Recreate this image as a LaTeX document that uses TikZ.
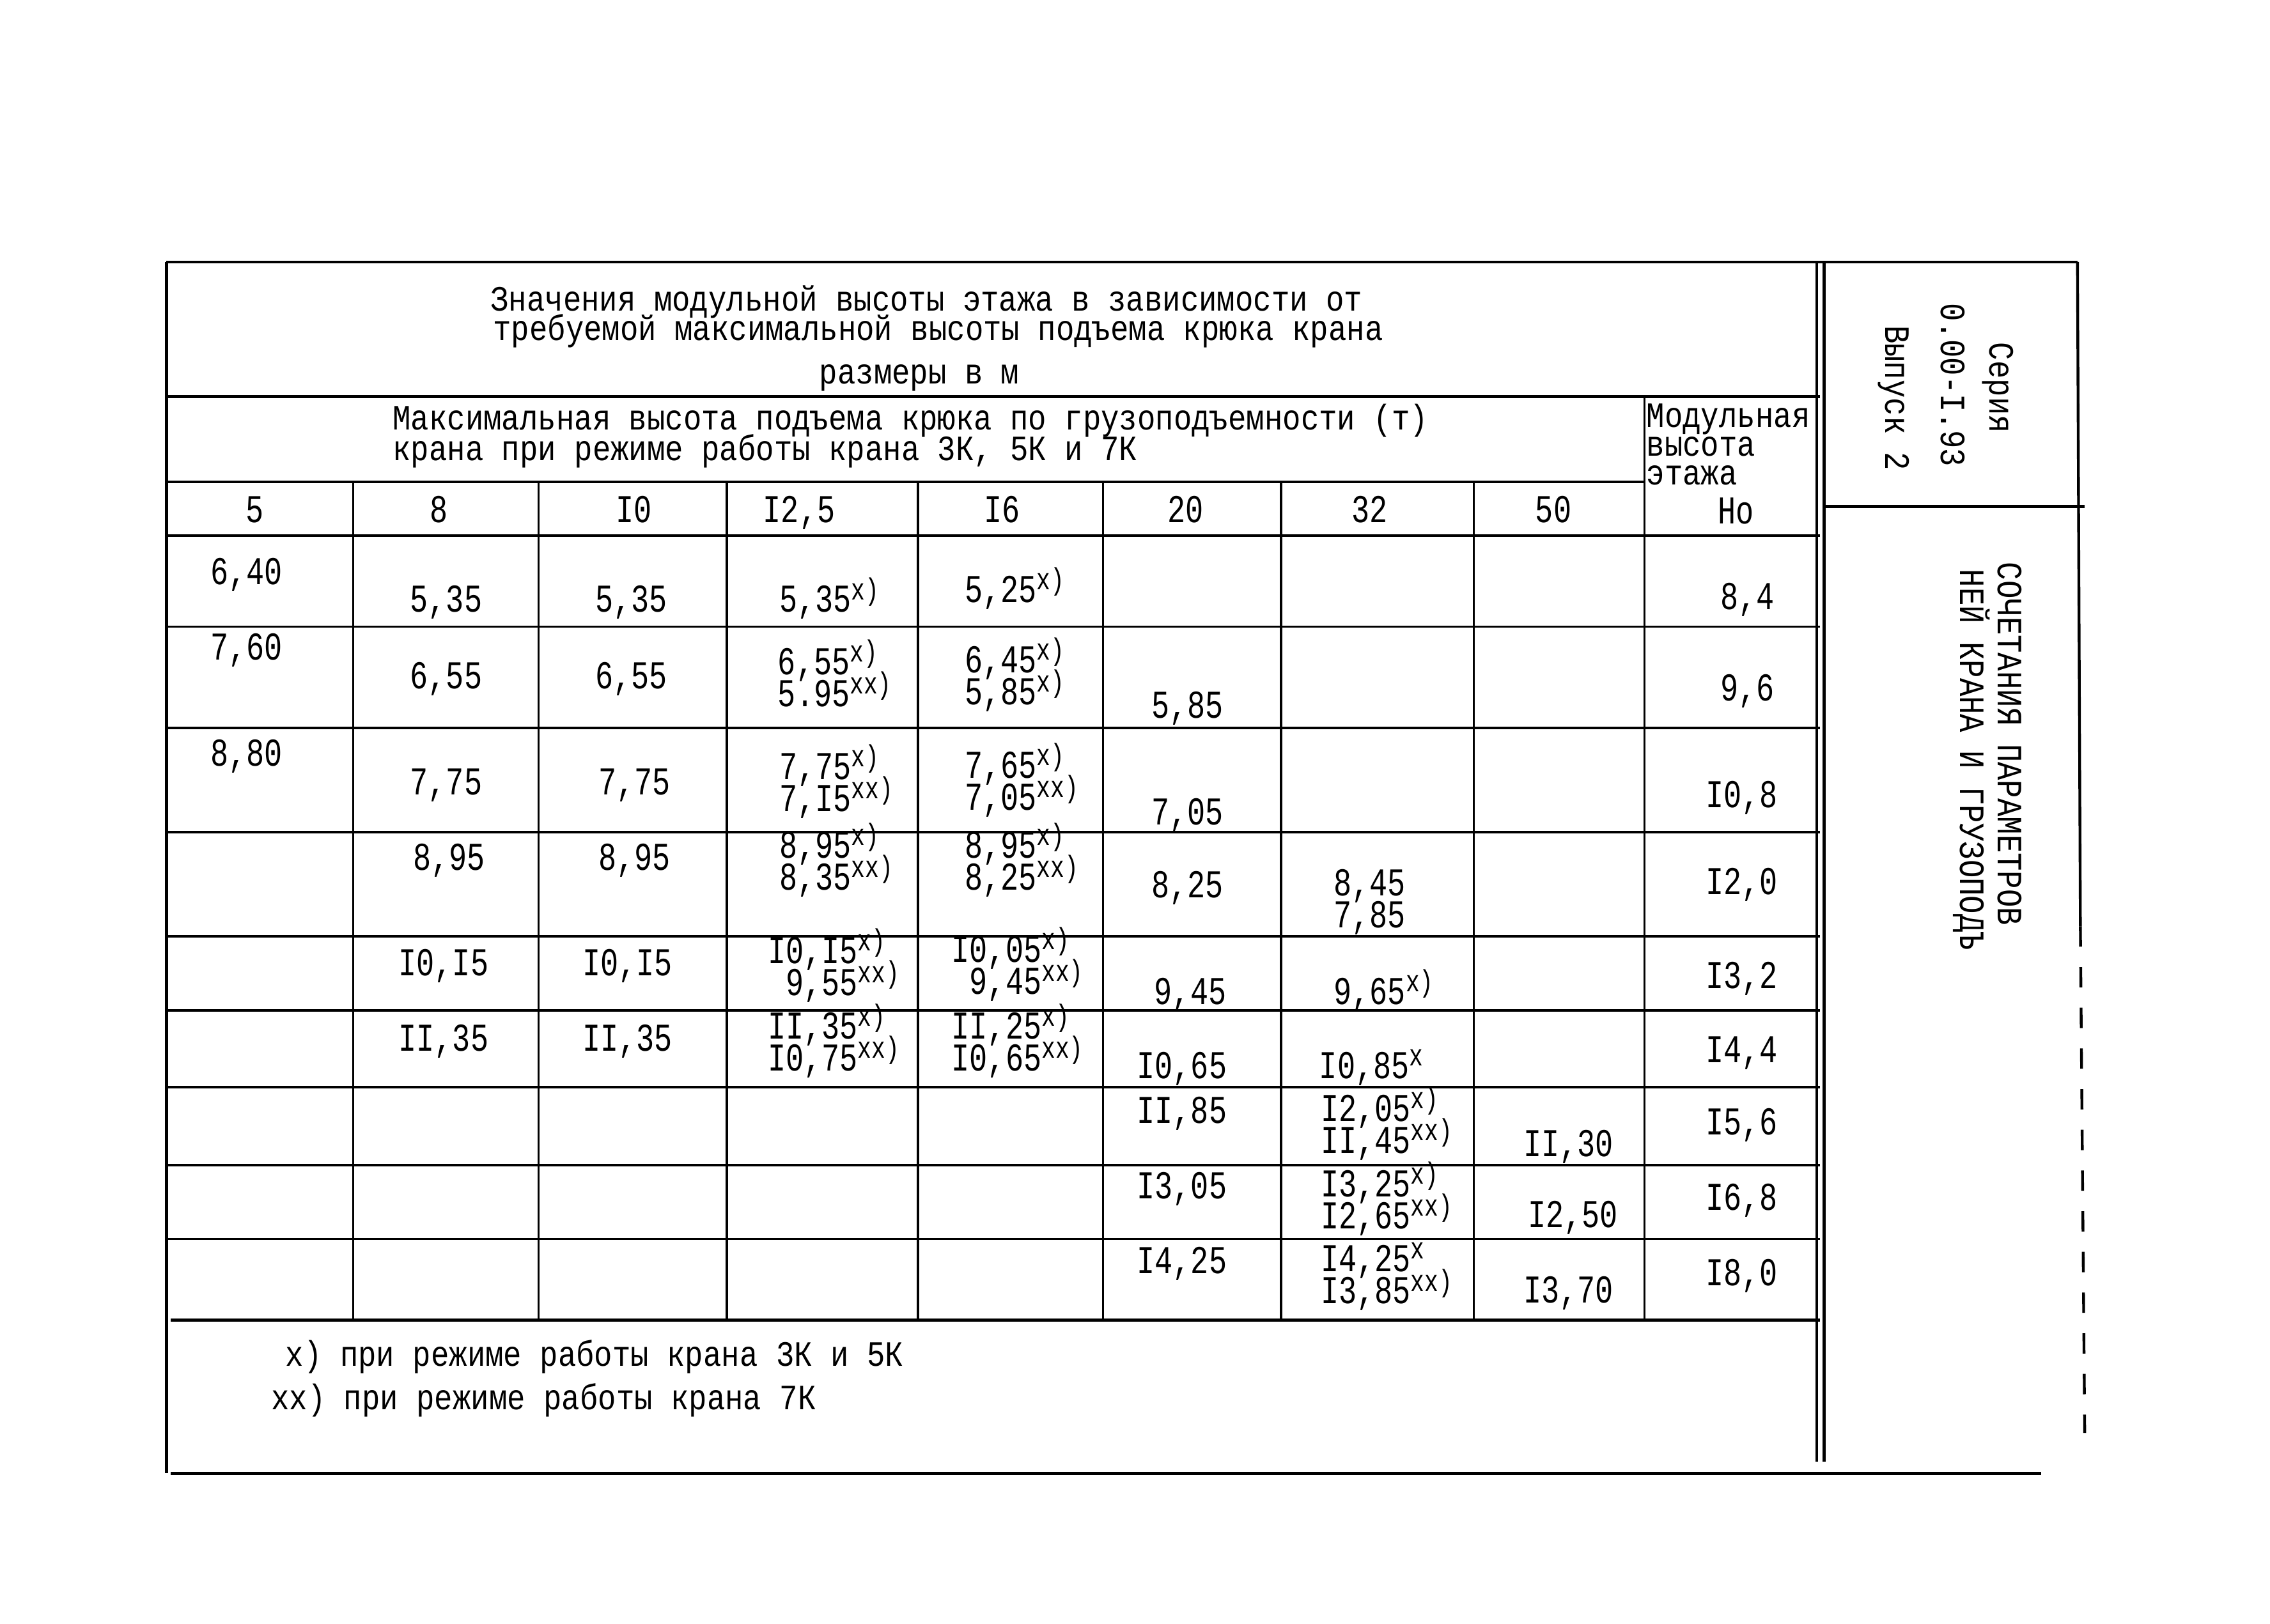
\documentclass[tikz,border=0pt]{standalone}
\usepackage{fontspec}
\newfontfamily\twA[FakeStretch=0.85]{Liberation Mono}
\newfontfamily\twB[FakeStretch=0.76]{Liberation Mono}
\newcommand\sx[1]{\smash{\raisebox{5pt}{\fontsize{12}{12}\selectfont #1}}}
\newcommand\rs[1]{\rlap{\sx{#1}}}
\newcommand\datfont{\twB\fontsize{15.5}{12.6}\selectfont\lineskiplimit -30pt\relax}
\begin{document}
\begin{tikzpicture}[x=0.02cm,y=-0.02cm,
  ln/.style={line width=1.1pt,black},
  lnt/.style={line width=0.9pt,black},
  txt/.style={font=\twA\fontsize{14}{12}\selectfont,inner sep=0pt},
  dat/.style={font=\datfont,inner sep=0pt,align=right},
  hd/.style={font=\twB\fontsize{15.5}{11.5}\selectfont,inner sep=0pt,anchor=base},
  rot/.style={font=\twA\fontsize{14}{12}\selectfont,inner sep=0pt,rotate=-90}]
\useasboundingbox[fill=white] (0,0) rectangle (1568,1122);
% frame
\draw[ln] (115,181) -- (1435,181);
\draw[ln] (115,181) -- (115,1018);
\draw[ln] (118,1018) -- (1410,1018);
\draw[ln] (1255,181) -- (1255,1010);
\draw[ln] (1260,181) -- (1260,1010);
\draw[ln] (1435,181) -- (1437,640);
\draw[ln,dash pattern=on 8pt off 8pt] (1437,640) -- (1440,990);
\draw[ln] (1260,350) -- (1440,350);
% table rules
\draw[ln] (115,274) -- (1257,274);
\draw[ln] (115,333) -- (1136,333);
\draw[ln] (115,370) -- (1257,370);
\draw[lnt] (1136,274) -- (1136,912);
\foreach \xx in {244,372,502,634,762,885,1018} \draw[lnt] (\xx,333) -- (\xx,912);
\foreach \yy in {433,503,575,647,698,751,805,856} \draw[lnt] (115,\yy) -- (1257,\yy);
\draw[ln] (118,912) -- (1257,912);
% title
\node[txt,anchor=base] (t1) at (640,215) {Значения модульной высоты этажа в зависимости от};
\node[txt,anchor=base] (t2) at (648,235) {требуемой максимальной высоты подъема крюка крана};
\node[txt,anchor=base] (t3) at (635,265) {размеры в м};
\node[txt,anchor=base west] (h1) at (271,297) {Максимальная высота подъема крюка по грузоподъемности (т)};
\node[txt,anchor=base west] (h2) at (271,318) {крана при режиме работы крана 3К, 5К и 7К};
\node[txt,anchor=base west] (m1) at (1137,295) {Модульная};
\node[txt,anchor=base west] (m2) at (1137,315) {высота};
\node[txt,anchor=base west] (m3) at (1137,335) {этажа};
% column heads
\node[hd] (c5) at (176,361) {5};
\node[hd] (c8) at (303,361) {8};
\node[hd] (c10) at (438,361) {I0};
\node[hd] (c12) at (552,361) {I2,5};
\node[hd] (c16) at (692,361) {I6};
\node[hd] (c20) at (819,361) {20};
\node[hd] (c32) at (946,361) {32};
\node[hd] (c50) at (1073,361) {50};
\node[hd] (cho) at (1199,362) {Но};
% column 5
\node[dat,anchor=base west] (a1) at (145,404) {6,40};
\node[dat,anchor=base west] (a2) at (145,456) {7,60};
\node[dat,anchor=base west] (a3) at (145,529) {8,80};
% column 8
\node[dat,anchor=base west] (b1) at (283,423) {5,35};
\node[dat,anchor=base west] (b2) at (283,476) {6,55};
\node[dat,anchor=base west] (b3) at (283,549) {7,75};
\node[dat,anchor=base west] (b4) at (285,601) {8,95};
\node[dat,anchor=base west] (b5) at (275,674) {I0,I5};
\node[dat,anchor=base west] (b6) at (275,726) {II,35};
% column 10
\node[dat,anchor=base west] (d1) at (411,423) {5,35};
\node[dat,anchor=base west] (d2) at (411,476) {6,55};
\node[dat,anchor=base west] (d3) at (413,549) {7,75};
\node[dat,anchor=base west] (d4) at (413,601) {8,95};
\node[dat,anchor=base west] (d5) at (402,674) {I0,I5};
\node[dat,anchor=base west] (d6) at (402,726) {II,35};
% column 12,5
\node[dat,anchor=base west] (e1) at (538,423) {5,35\rs{x)}};
\node[dat,anchor=west] (e2) at (537,468) {6,55\rs{x)}\\5.95\rs{xx)}};
\node[dat,anchor=west] (e3) at (538,543) {7,75\rs{x)}\\7,I5\rs{xx)}};
\node[dat,anchor=west] (e4) at (538,597) {8,95\rs{x)}\\8,35\rs{xx)}};
\node[dat,anchor=west] (e5) at (530,670) {I0,I5\rs{x)}\\9,55\rs{xx)}};
\node[dat,anchor=west] (e6) at (530,722) {II,35\rs{x)}\\I0,75\rs{xx)}};
% column 16
\node[dat,anchor=base west] (f1) at (666,416) {5,25\rs{x)}};
\node[dat,anchor=west] (f2) at (666,469) {6,45\rs{x)}\\5,85\rs{x)}};
\node[dat,anchor=west] (f3) at (666,542) {7,65\rs{x)}\\7,05\rs{xx)}};
\node[dat,anchor=west] (f4) at (666,597) {8,95\rs{x)}\\8,25\rs{xx)}};
\node[dat,anchor=west] (f5) at (657,669) {I0,05\rs{x)}\\9,45\rs{xx)}};
\node[dat,anchor=west] (f6) at (657,722) {II,25\rs{x)}\\I0,65\rs{xx)}};
% column 20
\node[dat,anchor=base west] (g2) at (795,496) {5,85};
\node[dat,anchor=base west] (g3) at (795,570) {7,05};
\node[dat,anchor=base west] (g4) at (795,620) {8,25};
\node[dat,anchor=base west] (g5) at (797,694) {9,45};
\node[dat,anchor=base west] (g6) at (785,745) {I0,65};
\node[dat,anchor=base west] (g7) at (785,776) {II,85};
\node[dat,anchor=base west] (g8) at (785,828) {I3,05};
\node[dat,anchor=base west] (g9) at (785,880) {I4,25};
% column 32
\node[dat,anchor=west] (k4) at (921,623) {8,45\\7,85};
\node[dat,anchor=base west] (k5) at (921,694) {9,65\rs{x)}};
\node[dat,anchor=base west] (k6) at (911,745) {I0,85\rs{x}};
\node[dat,anchor=west] (k7) at (912,779) {I2,05\rs{x)}\\II,45\rs{xx)}};
\node[dat,anchor=west] (k8) at (912,831) {I3,25\rs{x)}\\I2,65\rs{xx)}};
\node[dat,anchor=west] (k9) at (912,883) {I4,25\rs{x}\\I3,85\rs{xx)}};
% column 50
\node[dat,anchor=base west] (p7) at (1052,799) {II,30};
\node[dat,anchor=base west] (p8) at (1055,848) {I2,50};
\node[dat,anchor=base west] (p9) at (1052,900) {I3,70};
% column Ho
\node[dat,anchor=base west] (q1) at (1188,421) {8,4};
\node[dat,anchor=base west] (q2) at (1188,484) {9,6};
\node[dat,anchor=base west] (q3) at (1178,558) {I0,8};
\node[dat,anchor=base west] (q4) at (1178,618) {I2,0};
\node[dat,anchor=base west] (q5) at (1178,683) {I3,2};
\node[dat,anchor=base west] (q6) at (1178,734) {I4,4};
\node[dat,anchor=base west] (q7) at (1178,784) {I5,6};
\node[dat,anchor=base west] (q8) at (1178,836) {I6,8};
\node[dat,anchor=base west] (q9) at (1178,888) {I8,0};
% footnotes
\node[txt,anchor=base west] (n1) at (197,944) {x) при режиме работы крана 3К и 5К};
\node[txt,anchor=base west] (n2) at (187,974) {xx) при режиме работы крана 7К};
% right panel
\node[rot] (s1) at (1380,268) {Серия};
\node[rot] (s2) at (1349,266) {0.00-I.93};
\node[rot] (s3) at (1308,275) {Выпуск 2};
\node[rot] (s4) at (1388,514) {СОЧЕТАНИЯ ПАРАМЕТРОВ};
\node[rot] (s5) at (1362,525) {НЕЙ КРАНА И ГРУЗОПОДЪ};
\end{tikzpicture}
\end{document}
